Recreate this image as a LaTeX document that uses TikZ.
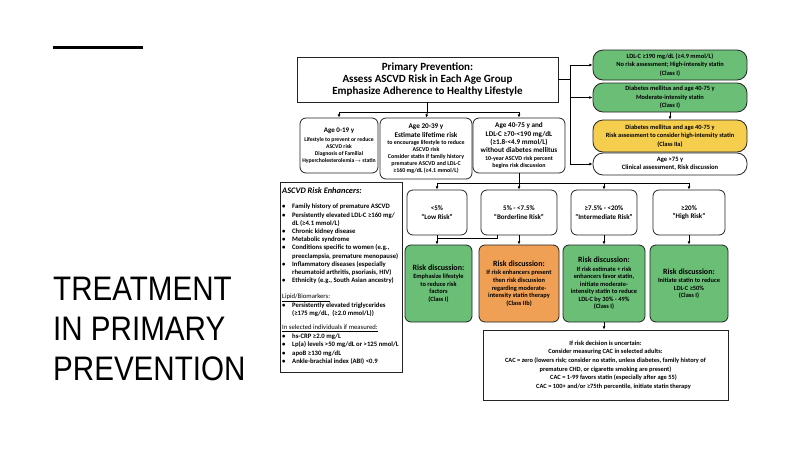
\documentclass[tikz,border=0pt]{standalone}
\usepackage{fontspec}
\setmainfont{Carlito}
\newfontfamily\titlefont[FakeStretch=0.87]{Liberation Sans}
\usetikzlibrary{arrows.meta}
\definecolor{gboxfill}{RGB}{106,190,118}
\definecolor{oboxfill}{RGB}{240,160,85}
\definecolor{yboxfill}{RGB}{246,206,78}
\definecolor{edgecol}{RGB}{35,35,35}
\newcommand\fs[2]{\fontsize{#1}{#2}\selectfont}
\newcommand\bul{\makebox[10pt][l]{•}}
\newcommand\ind{\hspace*{10pt}}
\begin{document}
\begin{tikzpicture}[x=1pt,y=-1pt,
  box/.style={draw=edgecol, line width=0.8pt, inner sep=0pt, align=center, font=\bfseries},
  sqbox/.style={box},
  pill/.style={box, rounded corners=10pt},
  rbox/.style={box, rounded corners=6pt},
  conn/.style={draw=black, line width=0.8pt},
  arr/.style={conn, -{Latex[length=3.2pt,width=2.8pt]}},
  bigtitle/.style={anchor=base west, inner sep=0pt, font=\titlefont\fontsize{34}{40}\selectfont},
  enhtext/.style={anchor=north west, inner sep=0pt, align=left},
]
\useasboundingbox (0,0) rectangle (800,450);

% left title
\draw[line width=3pt] (53,47) -- (143,47);
\node[bigtitle] (t1) at (53,300) {TREATMENT};
\node[bigtitle] (t2) at (53,340) {IN PRIMARY};
\node[bigtitle] (t3) at (53,380) {PREVENTION};

% title box
\node[sqbox, minimum width=261pt, minimum height=45pt, font=\bfseries\fs{11}{12}] (title) at (427.5,79.5)
  {Primary Prevention:\\Assess ASCVD Risk in Each Age Group\\Emphasize Adherence to Healthy Lifestyle};

% right column
\node[pill, fill=gboxfill, minimum width=154pt, minimum height=30pt, font=\bfseries\fs{6.4}{8.5}] (r1) at (670,65)
  {LDL-C ≥190 mg/dL (≥4.9 mmol/L)\\No risk assessment; High-intensity statin\\(Class I)};
\node[pill, fill=gboxfill, minimum width=154pt, minimum height=29pt, font=\bfseries\fs{6.4}{8.5}] (r2) at (670,97.5)
  {Diabetes mellitus and age 40-75 y\\Moderate-intensity statin\\(Class I)};
\node[pill, fill=yboxfill, minimum width=154pt, minimum height=32pt, font=\bfseries\fs{6.4}{8.5}] (r3) at (670,136)
  {Diabetes mellitus and age 40-75 y\\Risk assessment to consider high-intensity statin\\(Class IIa)};
\node[pill, fill=white, minimum width=154pt, minimum height=22pt, font=\bfseries\fs{6.6}{8.5}] (r4) at (670,164)
  {Age >75 y\\Clinical assessment, Risk discussion};

% age boxes
\node[rbox, minimum width=78pt, minimum height=55pt, font=\bfseries\fs{5.7}{7}] (a1) at (339,145.5)
  {{\fs{7}{7}Age 0-19 y}\\[1.5pt]Lifestyle to prevent or reduce\\ASCVD risk\\Diagnosis of Familial\\Hypercholesterolemia{\fs{5}{5}$\rightarrow$} statin};
\node[rbox, minimum width=92pt, minimum height=61pt, font=\bfseries\fs{5.9}{6.8}] (a2) at (426,148.5)
  {{\fs{7.2}{7}Age 20-39 y}\\[1.5pt]{\fs{7.2}{7}Estimate lifetime risk}\\[1pt]to encourage lifestyle to reduce\\ASCVD risk\\Consider statin if family history\\premature ASCVD and LDL-C\\≥160 mg/dL (≥4.1 mmol/L)};
\node[rbox, minimum width=92pt, minimum height=55pt, font=\bfseries\fs{6}{6.8}] (a3) at (519,145.5)
  {{\fs{7.2}{8}Age 40-75 y and}\\[1.5pt]{\fs{7.2}{8}LDL-C ≥70-<190 mg/dL}\\[1.5pt]{\fs{7.2}{8}(≥1.8-<4.9 mmol/L)}\\[1.5pt]{\fs{7.2}{8}without diabetes mellitus}\\[1pt]10-year ASCVD risk percent\\begins risk discussion};

% risk categories
\node[rbox, minimum width=60pt, minimum height=45pt, font=\bfseries\fs{7}{8.5}] (c1) at (437,212.5) {<5\%\\“Low Risk”};
\node[rbox, minimum width=76pt, minimum height=45pt, font=\bfseries\fs{7}{8.5}] (c2) at (519,212.5) {5\% - <7.5\%\\“Borderline Risk”};
\node[rbox, minimum width=66pt, minimum height=45pt, font=\bfseries\fs{7}{8.5}] (c3) at (604,212.5) {≥7.5\% - <20\%\\“Intermediate Risk”};
\node[rbox, minimum width=72pt, minimum height=45pt, font=\bfseries\fs{7}{8.5}] (c4) at (689,212.5) {≥20\%\\“High Risk”};

% risk discussion boxes
\node[rbox, fill=gboxfill, minimum width=67pt, minimum height=77pt, font=\bfseries\fs{6.4}{7.4}] (d1) at (438.5,283.5)
  {{\fs{8}{9}Risk discussion:}\\[1pt]Emphasize lifestyle\\to reduce risk\\factors\\(Class I)};
\node[rbox, fill=oboxfill, minimum width=80pt, minimum height=77pt, font=\bfseries\fs{6.4}{7.7}] (d2) at (519,283.5)
  {{\fs{8}{9}Risk discussion:}\\[1pt]If risk enhancers present\\then risk discussion\\regarding moderate-\\intensity statin therapy\\(Class IIb)};
\node[rbox, fill=gboxfill, minimum width=82pt, minimum height=77pt, font=\bfseries\fs{6.4}{7.5}] (d3) at (604,283.5)
  {{\fs{8}{9}Risk discussion:}\\[1pt]If risk estimate + risk\\enhancers favor statin,\\initiate moderate-\\intensity statin to reduce\\LDL-C by 30\% - 49\%\\(Class I)};
\node[rbox, fill=gboxfill, minimum width=78pt, minimum height=77pt, font=\bfseries\fs{6.4}{7.4}] (d4) at (689,283.5)
  {{\fs{8}{9}Risk discussion:}\\[1pt]Initiate statin to reduce\\LDL-C ≥50\%\\(Class I)};

% bottom box
\node[sqbox, minimum width=245pt, minimum height=70pt, font=\bfseries\fs{6.4}{8.6}] (bot) at (605.5,365)
  {If risk decision is uncertain:\\Consider measuring CAC in selected adults:\\CAC = zero (lowers risk; consider no statin, unless diabetes, family history of\\premature CHD, or cigarette smoking are present)\\\hspace*{16pt}CAC = 1-99 favors statin (especially after age 55)\\\hspace*{16pt}CAC = 100+ and/or ≥75th percentile, initiate statin therapy};

% risk enhancers box
\node[sqbox, minimum width=122pt, minimum height=190pt] (enh) at (341,277) {};
\node[anchor=west, inner sep=0pt, font=\bfseries\itshape\fs{8.4}{9}] (enhhead) at (282,191) {ASCVD Risk Enhancers:};
\node[enhtext, font=\bfseries\fs{6.7}{8.2}] (enhlist) at (282,204)
  {\bul Family history of premature ASCVD\\
   \bul Persistently elevated LDL-C ≥160 mg/\\
   \ind dL (≥4.1 mmol/L)\\
   \bul Chronic kidney disease\\
   \bul Metabolic syndrome\\
   \bul Conditions specific to women (e.g.,\\
   \ind preeclampsia, premature menopause)\\
   \bul Inflammatory diseases (especially\\
   \ind rheumatoid arthritis, psoriasis, HIV)\\
   \bul Ethnicity (e.g., South Asian ancestry)};
\node[enhtext, font=\bfseries\fs{6.7}{8.2}] (enhlipid) at (282,294)
  {{\mdseries\underline{Lipid/Biomarkers:}}\\
   \bul Persistently elevated triglycerides\\
   \ind (≥175 mg/dL,\ \ (≥2.0 mmol/L))};
\node[enhtext, font=\bfseries\fs{6.7}{8.5}] (enhsel) at (282,325)
  {{\mdseries\underline{In selected individuals if measured:}}\\
   \bul hs-CRP ≥2.0 mg/L\\
   \bul Lp(a) levels >50 mg/dL or >125 nmol/L\\
   \bul apoB ≥130 mg/dL\\
   \bul Ankle-brachial index (ABI) <0.9};

% connectors: title to right column
\coordinate (rv) at (570,79.5);
\draw[conn] (title.east) -- (rv);
\draw[conn] (rv|-r1.west) -- (rv|-r4.west);
\draw[arr] (rv|-r1.west) -- (r1.west);
\draw[arr] (rv|-r2.west) -- (r2.west);
\draw[arr] (rv|-r4.west) -- (r4.west);
\draw[arr] (r2.south) -- (r3.north);

% title to age boxes
\coordinate (ab) at (427.5,112);
\draw[conn] (title.south) -- (ab);
\draw[conn] (a1.north|-ab) -- (a3.north|-ab);
\draw[arr] (a1.north|-ab) -- (a1.north);
\draw[arr] (ab) -- (a2.north);
\draw[arr] (a3.north|-ab) -- (a3.north);

% age 40-75 to categories
\coordinate (hb) at (519,183);
\draw[conn] (c1.north|-hb) -- (c4.north|-hb);
\draw[arr] (a3.south) -- (c2.north);
\draw[arr] (c1.north|-hb) -- (c1.north);
\draw[arr] (c3.north|-hb) -- (c3.north);
\draw[arr] (c4.north|-hb) -- (c4.north);
\draw[conn] (c1.south) -- ++(0,2.5) -| ([xshift=17pt]c2.south west);

% categories to discussions
\draw[arr] (c1.south) -- (c1.south|-d1.north);
\draw[arr] (c2.south) -- (d2.north);
\draw[arr] (c3.south) -- (d3.north);
\draw[arr] (c4.south) -- (d4.north);
\draw[arr] (d3.south) -- (d3.south|-bot.north);
\end{tikzpicture}
\end{document}
